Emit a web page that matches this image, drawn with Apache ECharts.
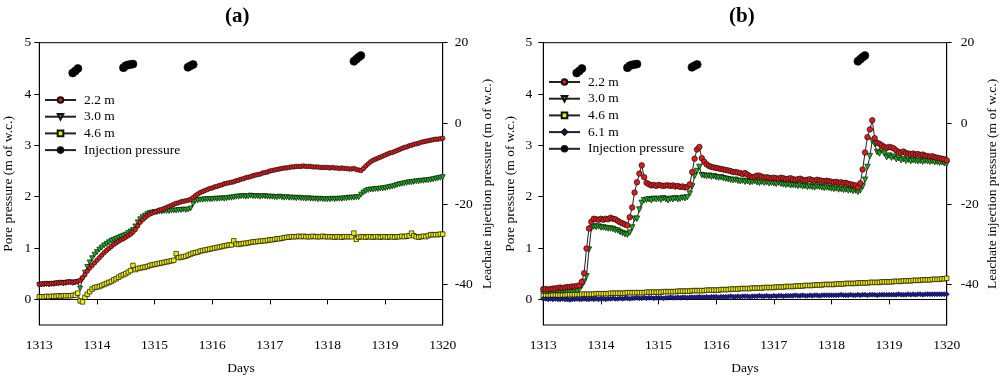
<!DOCTYPE html>
<html><head><meta charset="utf-8">
<script src="https://cdn.jsdelivr.net/npm/echarts@6/dist/echarts.min.js"></script>
<style>html,body{margin:0;padding:0;background:#fff}#c{width:1000px;height:376px}</style>
</head><body><div id="c"></div>
<script>
// Hourly readings, 1313.0 .. 1320.0 (169 samples, one row per day)
const xTicks = [1313,1314,1315,1316,1317,1318,1319,1320];
const leftTicks = [0,1,2,3,4,5];
const rightTicks = [-40,-20,0,20];

const a_22 = [
0.29,0.30,0.30,0.31,0.30,0.31,0.31,0.32,0.32,0.33,0.32,0.33,0.34,0.34,0.33,0.34,0.35,0.37,0.42,0.48,0.55,0.61,0.66,0.71,
0.76,0.81,0.86,0.91,0.95,0.99,1.03,1.07,1.10,1.13,1.16,1.18,1.21,1.24,1.27,1.31,1.36,1.43,1.50,1.55,1.59,1.63,1.66,1.68,
1.70,1.72,1.74,1.75,1.77,1.79,1.81,1.83,1.85,1.87,1.88,1.90,1.91,1.92,1.93,1.95,1.98,2.02,2.05,2.08,2.10,2.12,2.14,2.16,
2.17,2.19,2.20,2.22,2.23,2.25,2.26,2.27,2.28,2.29,2.31,2.32,2.34,2.35,2.37,2.38,2.39,2.41,2.42,2.43,2.44,2.46,2.47,2.48,
2.50,2.51,2.52,2.53,2.54,2.55,2.56,2.56,2.57,2.58,2.58,2.59,2.59,2.59,2.60,2.59,2.59,2.59,2.58,2.58,2.58,2.57,2.57,2.57,
2.57,2.56,2.57,2.56,2.56,2.55,2.56,2.55,2.55,2.54,2.54,2.55,2.53,2.52,2.51,2.55,2.60,2.64,2.68,2.71,2.73,2.75,2.77,2.79,
2.81,2.83,2.85,2.86,2.88,2.90,2.92,2.94,2.96,2.97,2.99,3.00,3.02,3.03,3.04,3.06,3.07,3.08,3.09,3.10,3.11,3.12,3.12,3.13,
3.14];
const a_30 = [
0.28,0.29,0.29,0.30,0.29,0.30,0.30,0.31,0.31,0.32,0.31,0.32,0.33,0.33,0.32,0.33,0.34,0.21,0.40,0.52,0.63,0.72,0.80,0.87,
0.92,0.97,1.01,1.05,1.08,1.11,1.14,1.16,1.18,1.20,1.22,1.24,1.26,1.29,1.32,1.35,1.42,1.50,1.56,1.60,1.63,1.66,1.68,1.69,
1.70,1.70,1.71,1.71,1.72,1.72,1.72,1.73,1.73,1.73,1.74,1.74,1.75,1.74,1.75,1.77,1.86,1.92,1.93,1.94,1.94,1.95,1.95,1.95,
1.95,1.96,1.96,1.96,1.97,1.96,1.97,1.98,1.98,1.99,2.00,2.00,2.01,2.01,2.00,2.01,2.02,2.01,2.01,2.01,2.00,2.01,2.01,2.00,
2.00,2.00,1.99,1.99,2.00,1.99,1.98,1.99,1.98,1.98,1.98,1.97,1.98,1.97,1.97,1.96,1.97,1.96,1.96,1.96,1.95,1.96,1.95,1.95,
1.95,1.95,1.96,1.95,1.96,1.96,1.96,1.97,1.97,1.98,1.98,1.98,1.99,1.99,2.04,2.08,2.11,2.13,2.14,2.14,2.15,2.15,2.16,2.16,
2.17,2.18,2.19,2.20,2.21,2.23,2.24,2.25,2.26,2.27,2.28,2.28,2.29,2.30,2.30,2.31,2.31,2.32,2.32,2.33,2.34,2.35,2.36,2.37,
2.38];
const a_46 = [
0.05,0.05,0.05,0.06,0.05,0.06,0.06,0.06,0.07,0.06,0.07,0.07,0.07,0.07,0.08,0.08,0.12,-0.03,-0.05,0.04,0.10,0.15,0.20,0.23,
0.24,0.25,0.27,0.29,0.31,0.33,0.35,0.38,0.40,0.43,0.46,0.48,0.50,0.53,0.56,0.66,0.58,0.60,0.61,0.62,0.63,0.64,0.66,0.67,
0.68,0.69,0.70,0.71,0.72,0.73,0.74,0.75,0.76,0.89,0.81,0.82,0.83,0.84,0.86,0.88,0.90,0.91,0.92,0.94,0.95,0.96,0.97,0.98,
0.99,1.00,1.01,1.02,1.03,1.04,1.05,1.06,1.06,1.14,1.08,1.07,1.08,1.09,1.09,1.10,1.11,1.12,1.12,1.13,1.13,1.14,1.14,1.15,
1.16,1.16,1.17,1.18,1.18,1.19,1.20,1.21,1.21,1.22,1.22,1.22,1.23,1.22,1.23,1.22,1.22,1.22,1.23,1.22,1.22,1.22,1.23,1.22,
1.22,1.22,1.22,1.21,1.22,1.22,1.21,1.22,1.22,1.22,1.22,1.29,1.17,1.21,1.22,1.22,1.21,1.22,1.22,1.21,1.22,1.22,1.21,1.22,
1.22,1.21,1.22,1.22,1.21,1.22,1.22,1.23,1.22,1.23,1.24,1.29,1.24,1.22,1.21,1.22,1.23,1.22,1.24,1.26,1.26,1.26,1.26,1.27,
1.27];

const b_22 = [
0.20,0.20,0.19,0.20,0.21,0.21,0.22,0.23,0.22,0.23,0.24,0.24,0.25,0.25,0.26,0.27,0.34,0.51,0.99,1.38,1.51,1.57,1.56,1.55,
1.57,1.55,1.57,1.56,1.59,1.57,1.56,1.53,1.50,1.48,1.46,1.44,1.60,1.79,2.08,2.28,2.45,2.61,2.38,2.27,2.24,2.22,2.23,2.21,
2.23,2.22,2.21,2.22,2.22,2.21,2.22,2.20,2.21,2.19,2.20,2.18,2.19,2.24,2.48,2.74,2.92,2.97,2.75,2.68,2.63,2.60,2.58,2.57,
2.56,2.55,2.54,2.53,2.52,2.51,2.50,2.48,2.48,2.47,2.46,2.44,2.46,2.43,2.40,2.38,2.39,2.41,2.41,2.39,2.37,2.38,2.37,2.36,
2.37,2.36,2.35,2.37,2.36,2.34,2.35,2.36,2.34,2.33,2.34,2.35,2.33,2.32,2.33,2.34,2.32,2.31,2.33,2.32,2.31,2.30,2.31,2.30,
2.29,2.28,2.29,2.27,2.28,2.26,2.27,2.25,2.24,2.23,2.22,2.18,2.26,2.53,2.86,3.16,3.31,3.49,3.14,3.05,3.03,3.00,2.97,2.95,
2.97,2.96,2.94,2.90,2.87,2.86,2.88,2.85,2.84,2.83,2.84,2.82,2.83,2.81,2.82,2.80,2.79,2.78,2.79,2.77,2.76,2.75,2.74,2.73,
2.71];
const b_30 = [
0.10,0.10,0.11,0.11,0.12,0.12,0.12,0.13,0.13,0.13,0.14,0.14,0.14,0.15,0.16,0.19,0.26,0.34,0.45,0.97,1.38,1.42,1.41,1.42,
1.40,1.40,1.39,1.38,1.38,1.37,1.35,1.34,1.31,1.29,1.27,1.26,1.30,1.40,1.57,1.57,1.75,1.88,1.93,1.94,1.95,1.93,1.96,1.95,
1.96,1.94,1.97,1.95,1.93,1.96,1.95,1.97,1.95,1.96,1.98,1.97,1.99,2.06,2.20,2.40,2.50,2.58,2.42,2.41,2.40,2.41,2.39,2.40,
2.38,2.37,2.38,2.36,2.35,2.34,2.33,2.32,2.33,2.31,2.30,2.31,2.29,2.30,2.28,2.29,2.30,2.28,2.27,2.29,2.27,2.28,2.26,2.27,
2.26,2.25,2.27,2.25,2.24,2.23,2.24,2.22,2.23,2.22,2.21,2.22,2.20,2.21,2.19,2.20,2.19,2.18,2.20,2.19,2.18,2.17,2.18,2.17,
2.16,2.15,2.16,2.14,2.15,2.13,2.14,2.12,2.13,2.11,2.12,2.09,2.12,2.20,2.33,2.58,2.79,3.09,3.03,2.87,2.84,2.90,2.84,2.77,
2.80,2.76,2.78,2.73,2.75,2.71,2.73,2.70,2.72,2.69,2.71,2.70,2.69,2.70,2.68,2.70,2.69,2.68,2.69,2.67,2.68,2.66,2.67,2.65,
2.64];
const b_46 = [
0.07,0.07,0.07,0.07,0.08,0.08,0.08,0.08,0.08,0.08,0.09,0.09,0.09,0.09,0.09,0.09,0.10,0.10,0.10,0.10,0.10,0.10,0.11,0.11,
0.11,0.11,0.11,0.11,0.12,0.12,0.12,0.12,0.12,0.12,0.12,0.13,0.13,0.13,0.13,0.13,0.13,0.13,0.13,0.14,0.14,0.14,0.14,0.14,
0.14,0.14,0.15,0.15,0.15,0.15,0.15,0.15,0.16,0.16,0.16,0.16,0.16,0.16,0.17,0.17,0.17,0.17,0.17,0.17,0.18,0.18,0.18,0.18,
0.18,0.18,0.19,0.19,0.19,0.19,0.20,0.20,0.20,0.20,0.21,0.21,0.21,0.21,0.21,0.22,0.22,0.22,0.22,0.22,0.23,0.23,0.23,0.23,
0.23,0.24,0.24,0.24,0.24,0.25,0.25,0.25,0.25,0.26,0.26,0.26,0.26,0.27,0.27,0.27,0.27,0.28,0.28,0.28,0.28,0.29,0.29,0.29,
0.29,0.29,0.30,0.30,0.30,0.30,0.31,0.31,0.31,0.31,0.31,0.32,0.32,0.32,0.32,0.32,0.33,0.33,0.33,0.33,0.33,0.34,0.34,0.34,
0.34,0.34,0.35,0.35,0.35,0.35,0.36,0.36,0.36,0.36,0.37,0.37,0.37,0.37,0.38,0.38,0.38,0.38,0.39,0.39,0.39,0.39,0.40,0.40,
0.41];
const b_61 = [
0.01,0.01,0.00,0.01,0.00,0.01,0.00,0.00,0.01,0.00,0.00,-0.01,0.00,0.00,0.01,0.00,0.00,0.01,0.00,0.00,0.01,0.00,0.01,0.00,
0.01,0.01,0.00,0.01,0.01,0.02,0.01,0.01,0.02,0.01,0.02,0.02,0.01,0.02,0.02,0.03,0.02,0.02,0.03,0.02,0.03,0.03,0.02,0.03,
0.03,0.03,0.02,0.03,0.03,0.04,0.03,0.03,0.04,0.03,0.04,0.04,0.03,0.04,0.04,0.04,0.04,0.05,0.04,0.04,0.05,0.04,0.05,0.05,
0.05,0.04,0.05,0.05,0.05,0.05,0.06,0.05,0.05,0.06,0.05,0.06,0.06,0.06,0.05,0.06,0.06,0.06,0.07,0.06,0.06,0.07,0.06,0.06,
0.07,0.06,0.07,0.07,0.06,0.07,0.07,0.07,0.07,0.08,0.07,0.07,0.08,0.07,0.07,0.08,0.07,0.08,0.08,0.07,0.08,0.08,0.08,0.08,
0.08,0.08,0.08,0.08,0.09,0.08,0.08,0.08,0.09,0.08,0.08,0.09,0.08,0.09,0.09,0.08,0.09,0.09,0.09,0.08,0.09,0.09,0.09,0.09,
0.09,0.09,0.09,0.09,0.10,0.09,0.09,0.09,0.10,0.09,0.10,0.09,0.10,0.10,0.09,0.10,0.10,0.10,0.10,0.10,0.10,0.10,0.10,0.10,
0.10];

// Injection pressure (right axis), four injection events
const injectionDays = [
  [1313.58,1313.625,1313.67],
  [1314.46,1314.50,1314.54,1314.58,1314.625],
  [1315.58,1315.625,1315.67],
  [1318.46,1318.50,1318.54,1318.58]
];
const injectionValues = [
  [12.5,13.0,13.6],
  [13.8,14.3,14.5,14.6,14.7],
  [13.9,14.3,14.6],
  [15.4,15.9,16.4,16.8]
];

const days = [];
for (let i = 0; i < a_22.length; i++) days.push(1313 + i / 24);
const toPairs = vals => vals.map((v, i) => [days[i], v]);
const injData = [];
injectionDays.forEach((ds, k) => {
  ds.forEach((d, j) => injData.push([d, injectionValues[k][j]]));
  injData.push([ds[ds.length - 1] + 0.01, '-']);
});

const FONT = 'Liberation Serif';
const RED = '#e31a1c', GREEN = '#19b419', YELLOW = '#f2f200', BLUE = '#1a1ab0';
const GX = [{left: 39.3, right: 1000 - 442.7}, {left: 543.3, right: 1000 - 946.7}];
const TOP = 42.7, HEIGHT = 325 - 42.7;

const grids = GX.map(g => ({left: g.left, right: g.right, top: TOP, height: HEIGHT,
  containLabel: false, outerBoundsMode: 'none',
  show: true, borderColor: '#000', borderWidth: 1, backgroundColor: 'transparent'}));

const xAxes = [0, 1].map(k => ({
  type: 'value', gridIndex: k, min: xTicks[0], max: xTicks[xTicks.length - 1], interval: 1,
  name: 'Days', nameLocation: 'middle', nameGap: 36,
  nameTextStyle: {fontFamily: FONT, fontSize: 13.5, color: '#000'},
  axisLine: {show: true, lineStyle: {color: '#000', width: 1}},
  axisTick: {show: true, inside: false, length: 5, lineStyle: {color: '#000'}},
  axisLabel: {fontFamily: FONT, fontSize: 13.5, color: '#000', margin: 13, formatter: v => String(v)},
  splitLine: {show: false}
}));

function yLeft(k, gap, margin) {
  return {type: 'value', gridIndex: k, position: 'left', min: -0.5, max: 5,
    name: 'Pore pressure (m of w.c.)', nameLocation: 'middle', nameGap: gap, nameRotate: 90,
    nameTextStyle: {fontFamily: FONT, fontSize: 13.5, color: '#000'},
    axisLine: {show: true, onZero: false, lineStyle: {color: '#000'}},
    axisTick: {show: true, length: 5, customValues: leftTicks, lineStyle: {color: '#000'}},
    axisLabel: {fontFamily: FONT, fontSize: 13.5, color: '#000', margin: margin, customValues: leftTicks},
    splitLine: {show: false}};
}
function yRight(k, gap, margin) {
  return {type: 'value', gridIndex: k, position: 'right', min: -50, max: 20,
    name: 'Leachate injection pressure (m of w.c.)', nameLocation: 'middle', nameGap: gap, nameRotate: 90,
    nameTextStyle: {fontFamily: FONT, fontSize: 13.5, color: '#000'},
    axisLine: {show: true, onZero: false, lineStyle: {color: '#000'}},
    axisTick: {show: true, length: 5, customValues: rightTicks, lineStyle: {color: '#000'}},
    axisLabel: {fontFamily: FONT, fontSize: 13.5, color: '#000', margin: margin, customValues: rightTicks},
    splitLine: {show: false}};
}
const yAxes = [yLeft(0, 24, 8), yRight(0, 38, 12), yLeft(1, 26, 11), yRight(1, 39, 14)];

function ser(name, data, xi, yi, color, symbol, size, rot, z) {
  return {name, type: 'line', xAxisIndex: xi, yAxisIndex: yi, data, symbol, symbolSize: size,
    symbolRotate: rot || 0, showSymbol: true, showAllSymbol: true, animation: false, z: z || 2,
    connectNulls: false,
    lineStyle: {color: '#222', width: 1},
    itemStyle: {color, borderColor: '#111', borderWidth: 0.7},
    emphasis: {disabled: true}};
}

const series = [
  ser('3.0 m', toPairs(a_30), 0, 0, GREEN, 'triangle', 5, 180, 2),
  ser('2.2 m', toPairs(a_22), 0, 0, RED, 'circle', 4.5, 0, 3),
  ser('4.6 m', toPairs(a_46), 0, 0, YELLOW, 'rect', 4.5, 0, 3),
  ser('Injection pressure', injData, 0, 1, '#000', 'circle', 8, 0, 4),
  ser('3.0 m', toPairs(b_30), 1, 2, GREEN, 'triangle', 5.5, 180, 2),
  ser('2.2 m', toPairs(b_22), 1, 2, RED, 'circle', 5.5, 0, 3),
  ser('4.6 m', toPairs(b_46), 1, 2, YELLOW, 'rect', 4.5, 0, 3),
  ser('6.1 m', toPairs(b_61), 1, 2, BLUE, 'diamond', 5, 0, 3),
  ser('Injection pressure', injData, 1, 3, '#000', 'circle', 8, 0, 4)
];

const legendBase = {orient: 'vertical', itemWidth: 31, itemHeight: 7, itemGap: 2.7,
  selectedMode: false,
  textStyle: {fontFamily: FONT, fontSize: 13.5, color: '#000', lineHeight: 14, padding: [0, 0, 0, 3]}};

const option = {
  backgroundColor: '#fff',
  animation: false,
  title: [
    {text: '(a)', left: 225, top: 6, padding: 0, textStyle: {fontFamily: FONT, fontSize: 21, fontWeight: 'bold', color: '#000'}},
    {text: '(b)', left: 729, top: 6, padding: 0, textStyle: {fontFamily: FONT, fontSize: 21, fontWeight: 'bold', color: '#000'}}
  ],
  legend: [
    Object.assign({}, legendBase, {left: 44, top: 93, padding: 0, data: ['2.2 m', '3.0 m', '4.6 m', 'Injection pressure']}),
    Object.assign({}, legendBase, {left: 548, top: 75, padding: 0, data: ['2.2 m', '3.0 m', '4.6 m', '6.1 m', 'Injection pressure']})
  ],
  grid: grids,
  xAxis: xAxes,
  yAxis: yAxes,
  series
};
const chart = echarts.init(document.getElementById('c'), null, {renderer: 'canvas'});
chart.setOption(option);
</script></body></html>
